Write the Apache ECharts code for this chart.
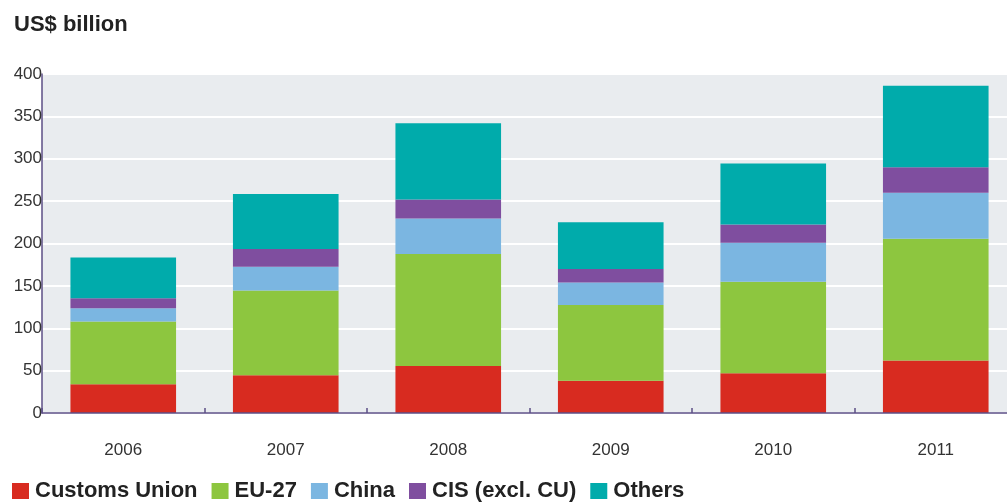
<!DOCTYPE html>
<html>
<head>
<meta charset="utf-8">
<title>US$ billion</title>
<script src="https://cdn.jsdelivr.net/npm/echarts@6/dist/echarts.min.js"></script>
<style>
    html, body { margin: 0; padding: 0; background: #fff; overflow: hidden; }
    #main { width: 1030px; height: 502px; }
</style>
</head>
<body>
<div id="main"></div>
<script>
var years = ['2006', '2007', '2008', '2009', '2010', '2011'];
var customsUnion = [34, 44.5, 55.5, 38, 47, 62];
var eu27 = [74, 100, 132, 89.5, 108, 143.5];
var china = [15.5, 28, 42, 26.5, 46, 54.5];
var cis = [12, 21, 22.5, 16, 21.5, 30];
var others = [48, 65, 90, 55, 72, 96];
var yTicks = [0, 50, 100, 150, 200, 250, 300, 350, 400];

/*画堆叠柱状图*/
function loadTradeChart() {
    var chart = echarts.init(document.getElementById('main'));
    var narrow = "'Liberation Sans Narrow', 'Arial Narrow', 'Liberation Sans', sans-serif";

    function barSeries(name, data) {
        return {
            name: name,
            type: 'bar',
            stack: 'total',
            barWidth: '65%',
            data: data
        };
    }

    var option = {
        animation: false,
        color: ['#d82b20', '#8dc63f', '#7bb6e1', '#7f4e9f', '#00abab'],
        title: {
            text: 'US$ billion',
            left: 9,
            top: 9,
            textStyle: { fontFamily: 'Liberation Sans, Arial, sans-serif', fontSize: 22, fontWeight: 'bold', color: '#222' }
        },
        legend: {
            left: 7,
            top: 475,
            icon: 'rect',
            itemWidth: 17,
            itemHeight: 16,
            itemGap: 14,
            textStyle: { fontFamily: 'Liberation Sans, Arial, sans-serif', fontSize: 22, fontWeight: 'bold', color: '#222', padding: [0, 0, 0, 1] },
            data: ['Customs Union', 'EU-27', 'China', 'CIS (excl. CU)', 'Others']
        },
        grid: {
            left: 42,
            top: 74,
            width: 975,
            height: 339,
            show: true,
            backgroundColor: '#e9ecef',
            borderWidth: 0
        },
        xAxis: {
            type: 'category',
            data: years,
            z: 5,
            axisLine: { lineStyle: { color: '#5c4f86', width: 1.5 } },
            axisTick: { show: true, interval: 0, inside: true, length: 5, lineStyle: { color: '#5c4f86', width: 1.5 } },
            axisLabel: { margin: 29, fontFamily: narrow, fontSize: 17, color: '#333' }
        },
        yAxis: {
            type: 'value',
            min: 0,
            max: 400,
            interval: 50,
            axisLine: { show: true, lineStyle: { color: '#5c4f86', width: 1.5 } },
            axisTick: { show: false },
            axisLabel: {
                margin: 0,
                fontFamily: narrow,
                fontSize: 17,
                color: '#333',
                formatter: function (v) { return yTicks.indexOf(v) >= 0 ? String(v) : ''; }
            },
            splitLine: { lineStyle: { color: '#ffffff', width: 2 } }
        },
        series: [
            barSeries('Customs Union', customsUnion),
            barSeries('EU-27', eu27),
            barSeries('China', china),
            barSeries('CIS (excl. CU)', cis),
            barSeries('Others', others)
        ]
    };

    chart.setOption(option);
}

loadTradeChart();
</script>
</body>
</html>
